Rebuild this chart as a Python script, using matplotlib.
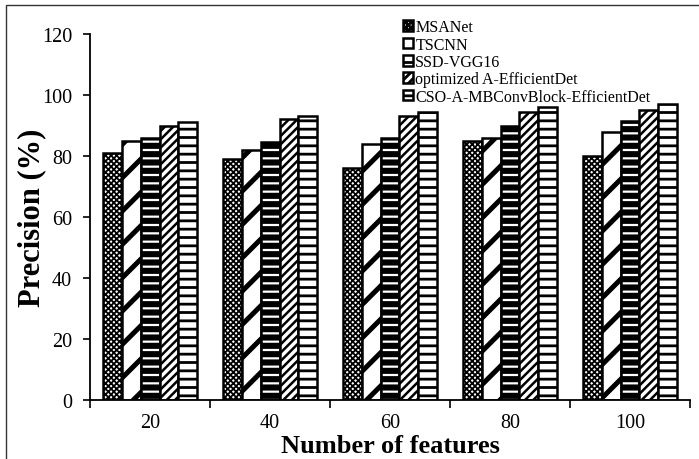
import matplotlib.pyplot as plt
import matplotlib as mpl
import numpy as np
from matplotlib.patches import Rectangle

features = ['20', '40', '60', '80', '100']
models = ['MSANet', 'TSCNN', 'SSD-VGG16', 'optimized A-EfficientDet',
          'CSO-A-MBConvBlock-EfficientDet']
msanet = [81, 79, 76, 85, 80]
tscnn = [85, 82, 84, 86, 88]
ssd_vgg16 = [86, 84.5, 86, 90, 91.5]
opt_effdet = [90, 92, 93, 94.5, 95]
cso_effdet = [91, 93, 94.5, 96, 97]
series = [msanet, tscnn, ssd_vgg16, opt_effdet, cso_effdet]

# hatch pattern and hatch line width per series
hatches = ['xxxxxx', '/', '--', '////', '--']
hatch_lws = [1.3, 3.6, 4.4, 1.8, 2.0]

plt.rcParams['font.family'] = 'Liberation Serif'

fig = plt.figure(figsize=(6.99, 4.60), dpi=100)
ax = fig.add_axes([0.129, 0.128, 0.858, 0.796])

x = np.arange(len(features))
w = 0.157
for i, vals in enumerate(series):
    plt.rcParams['hatch.linewidth'] = hatch_lws[i]
    bars = ax.bar(x + (i - 2) * w, vals, w, color='white', edgecolor='black',
                  linewidth=1.8, hatch=hatches[i], label=models[i])
    for b in bars:
        if hasattr(b, 'set_hatch_linewidth'):
            b.set_hatch_linewidth(hatch_lws[i])

ax.set_xlim(-0.5, len(features) - 0.5)
ax.set_ylim(0, 120)
ax.set_yticks(np.arange(0, 121, 20))
ax.set_xticks(np.arange(-0.5, len(features), 1))
ax.set_xticklabels([])
ax.set_xticks(x, minor=True)
ax.set_xticklabels(features, minor=True)
ax.tick_params(axis='x', which='minor', length=0, labelsize=14.5, pad=9)
ax.tick_params(axis='x', which='major', length=6, width=1.2, direction='out')
ax.tick_params(axis='y', length=5, width=1.2, labelsize=14.5, pad=8)
for s in ['top', 'right']:
    ax.spines[s].set_visible(False)
for s in ['left', 'bottom']:
    ax.spines[s].set_linewidth(1.3)

ax.set_xlabel('Number of features', fontsize=19, fontweight='bold', labelpad=2)
ax.set_ylabel('Precision (%)', fontsize=22, fontweight='bold')
ax.yaxis.set_label_coords(-0.074, 0.5)

ax.legend(loc='upper left', bbox_to_anchor=(0.565, 0.973),
          bbox_transform=fig.transFigure, frameon=False, fontsize=11.5,
          handlelength=0.65, handleheight=0.65, handletextpad=0.12,
          labelspacing=0.08, borderpad=0)

# outer frame around the figure
fig.add_artist(Rectangle((6 / 699, -0.5), 2, 1.5 - 6 / 460,
                         transform=fig.transFigure, fill=False,
                         edgecolor='#333333', linewidth=1))

fig.savefig('out.png', dpi=100)
